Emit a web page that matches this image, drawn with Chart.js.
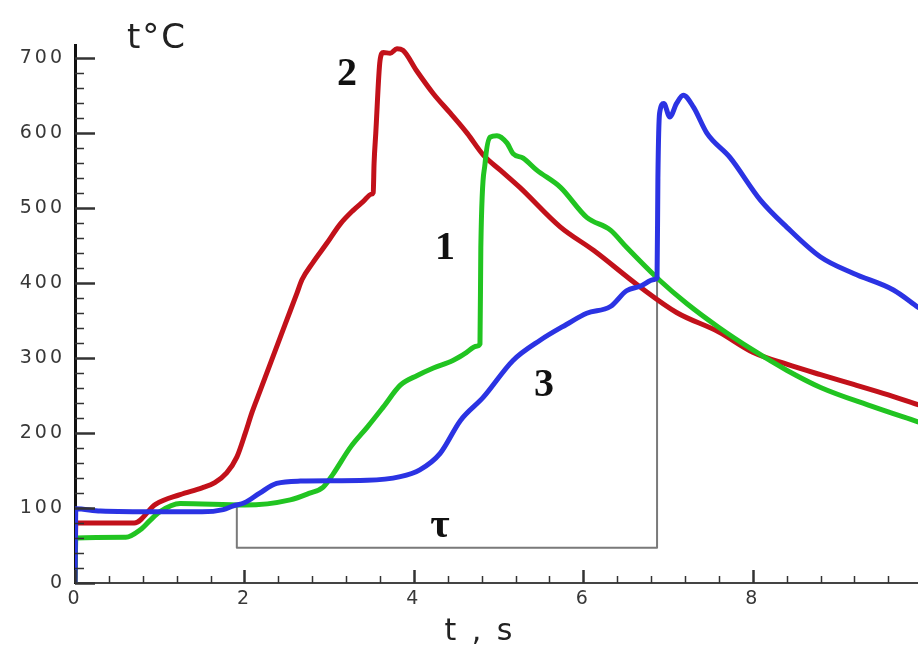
<!DOCTYPE html>
<html>
<head>
<meta charset="utf-8">
<script src="https://cdn.jsdelivr.net/npm/chart.js@4.4.1/dist/chart.umd.min.js"></script>
<style>
  body { margin: 0; background: #fff; }
  #wrap { width: 918px; height: 646px; }
</style>
</head>
<body>
<div id="wrap"><canvas id="chart" width="918" height="646"></canvas></div>
<script>
// Curve 2 (red)
const redT = [0, 0.01, 0.7, 0.95, 1.24, 1.5, 1.65, 1.79, 1.91, 2.01, 2.09, 2.18, 2.3, 2.42, 2.54, 2.62, 2.68, 2.81, 2.97, 3.13, 3.28, 3.4, 3.5, 3.52,
    3.53, 3.55, 3.6, 3.64, 3.72, 3.8, 3.87, 4.03, 4.23, 4.43, 4.63, 4.82, 5.02, 5.25, 5.73, 6.12, 6.67, 7.1, 7.6, 8.0, 8.4, 8.8, 9.19, 9.6, 9.95];
const redV = [0, 80, 80, 105, 118, 127, 134, 147, 168, 200, 228, 255, 291, 327, 363, 387, 405, 428, 453, 479, 497, 509, 519, 521,
    560, 600, 697, 708, 707, 713, 711, 684, 653, 627, 600, 571, 551, 528, 475, 444, 395, 361, 335, 308, 292, 278, 265, 251, 238];

// Curve 1 (green)
const greenT = [0, 0.01, 0.6, 0.77, 0.89, 1.0, 1.24, 2.0, 2.54, 2.77, 2.93, 3.05, 3.25, 3.45, 3.64, 3.84, 4.04, 4.23, 4.46, 4.6, 4.74, 4.78,
    4.79, 4.84, 4.9, 4.98, 5.1, 5.17, 5.29, 5.45, 5.73, 6.04, 6.32, 6.51, 6.9, 7.22, 7.6, 8.0, 8.4, 8.8, 9.4, 9.95];
const greenV = [0, 60, 61, 71, 84, 95, 106, 104, 111, 120, 128, 146, 181, 208, 235, 264, 277, 287, 297, 306, 316, 319,
    448, 560, 595, 597, 587, 573, 567, 551, 528, 488, 471, 448, 404, 373, 341, 311, 284, 261, 236, 215];

// Curve 3 (blue)
const blueT = [0, 0.01, 0.3, 1.0, 1.5, 1.75, 1.87, 2.0, 2.18, 2.38, 2.66, 3.45, 3.84, 4.07, 4.31, 4.55, 4.82, 5.17, 5.49, 5.8,
    6.04, 6.32, 6.51, 6.67, 6.84, 6.87, 6.88, 6.9, 6.95, 7.02, 7.1, 7.18, 7.3, 7.46, 7.73, 8.09, 8.4, 8.8, 9.19, 9.66, 9.95];
const blueV = [0, 99, 96, 95, 95, 98, 103, 107, 120, 133, 136, 137, 142, 151, 173, 217, 248, 297, 324, 345,
    360, 369, 390, 396, 405, 407, 540, 627, 640, 622, 640, 651, 635, 600, 568, 511, 475, 435, 413, 391, 368];

// tau bracket
const tauT = [1.91, 1.91, 6.87, 6.87];
const tauV = [100, 47, 47, 405];

const xTicks = [0, 2, 4, 6, 8];
const yTicks = [0, 100, 200, 300, 400, 500, 600, 700];

function pts(xs, ys) {
    return xs.map((x, i) => ({ x: x, y: ys[i] }));
}

// wider tick label look of the original
const spacingPlugin = {
    id: 'spacing',
    beforeDraw(chart) { chart.ctx.letterSpacing = '3px'; },
    beforeDatasetsDraw(chart) { chart.ctx.letterSpacing = '0px'; }
};

// inner tick marks, axis titles and curve labels
const decorPlugin = {
    id: 'decor',
    afterDatasetsDraw(chart) {
        const ctx = chart.ctx;
        const xs = chart.scales.x;
        const ys = chart.scales.y;
        const left = chart.chartArea.left;
        const bottom = chart.chartArea.bottom;

        ctx.save();
        ctx.strokeStyle = '#333';
        for (let v = 0; v <= 700; v += 20) {
            const major = v % 100 === 0;
            const py = Math.round(ys.getPixelForValue(v)) + 0.5;
            ctx.lineWidth = major ? 2.5 : 1.5;
            ctx.beginPath();
            ctx.moveTo(left, py);
            ctx.lineTo(left + (major ? 20 : 9), py);
            ctx.stroke();
        }
        for (let i = 0; i * 0.4 <= 9.95; i++) {
            const v = i * 0.4;
            const major = i % 5 === 0;
            const px = Math.round(xs.getPixelForValue(v)) + 0.5;
            ctx.lineWidth = major ? 2.5 : 1.5;
            ctx.beginPath();
            ctx.moveTo(px, bottom);
            ctx.lineTo(px, bottom - (major ? 13 : 7));
            ctx.stroke();
        }

        ctx.fillStyle = '#222';
        ctx.textBaseline = 'alphabetic';
        ctx.textAlign = 'left';
        ctx.font = '34px "DejaVu Sans"';
        ctx.letterSpacing = '2px';
        ctx.fillText('t°C', 127, 48);
        ctx.textAlign = 'center';
        ctx.font = '30px "DejaVu Sans"';
        ctx.letterSpacing = '3px';
        ctx.fillText('t , s', 480, 640);
        ctx.letterSpacing = '0px';

        ctx.fillStyle = '#111';
        ctx.font = 'bold 40px "Liberation Serif"';
        ctx.textBaseline = 'middle';
        ctx.fillText('2', 347, 75);
        ctx.fillText('1', 445, 249);
        ctx.fillText('3', 544, 386);
        ctx.font = 'bold 42px "Liberation Serif"';
        ctx.fillText('τ', 440, 526);
        ctx.restore();
    }
};

const curveStyle = {
    borderWidth: 5,
    cubicInterpolationMode: 'monotone'
};

new Chart(document.getElementById('chart'), {
    type: 'line',
    data: {
        datasets: [
            Object.assign({ label: '3', data: pts(blueT, blueV), borderColor: '#2b33e3', order: 0 }, curveStyle),
            Object.assign({ label: '1', data: pts(greenT, greenV), borderColor: '#21c421', order: 1 }, curveStyle),
            Object.assign({ label: '2', data: pts(redT, redV), borderColor: '#c2111a', order: 2 }, curveStyle),
            {
                label: 'tau',
                data: pts(tauT, tauV),
                borderColor: '#7a7a7a',
                borderWidth: 2,
                order: 3
            }
        ]
    },
    options: {
        responsive: false,
        animation: false,
        events: [],
        layout: { padding: { top: 45, right: 0, left: 0, bottom: 0 } },
        elements: {
            point: { radius: 0 },
            line: { tension: 0, borderJoinStyle: 'round', borderCapStyle: 'round', fill: false }
        },
        plugins: {
            legend: { display: false },
            tooltip: { enabled: false }
        },
        scales: {
            x: {
                type: 'linear',
                min: 0,
                max: 9.95,
                afterFit: s => { s.height = 63; },
                afterBuildTicks: s => { s.ticks = xTicks.map(v => ({ value: v })); },
                grid: { display: false, drawTicks: false },
                border: { display: true, color: '#444', width: 2 },
                ticks: {
                    padding: 5,
                    color: '#383838',
                    font: { family: 'DejaVu Sans', size: 19 }
                }
            },
            y: {
                type: 'linear',
                min: 0,
                max: 718,
                afterFit: s => { s.width = 75; },
                afterBuildTicks: s => { s.ticks = yTicks.map(v => ({ value: v })); },
                grid: { display: false, drawTicks: false },
                border: { display: true, color: '#111', width: 3 },
                ticks: {
                    padding: 10,
                    color: '#383838',
                    font: { family: 'DejaVu Sans', size: 19 }
                }
            }
        }
    },
    plugins: [spacingPlugin, decorPlugin]
});
</script>
</body>
</html>
